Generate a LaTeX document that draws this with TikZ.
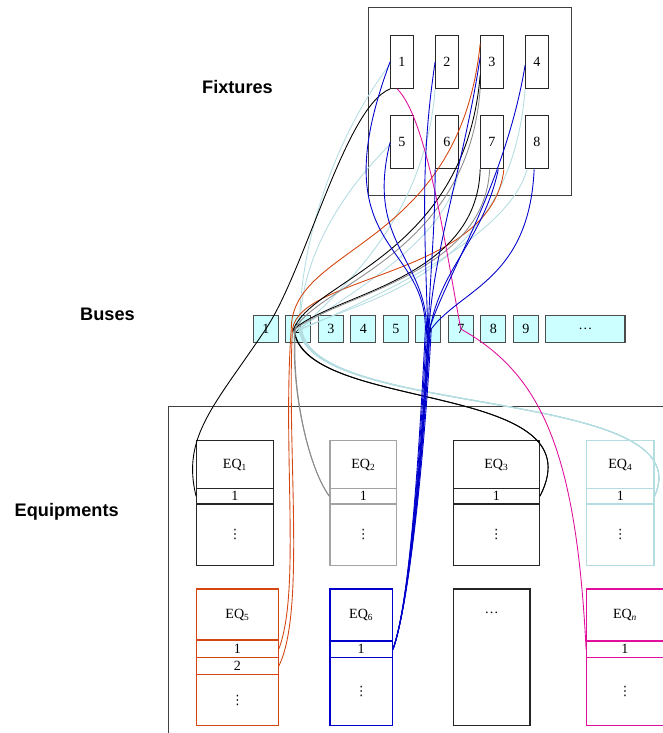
\documentclass[tikz,border=0pt]{standalone}
\usepackage{fontspec}
\setmainfont{Liberation Serif}
\setsansfont{Liberation Sans}
\newfontfamily\dotsfont{DejaVu Sans}
\usetikzlibrary{positioning}
\definecolor{eqblue}{HTML}{0000CC}
\definecolor{eqlight}{HTML}{B4DDE2}
\definecolor{eqorange}{HTML}{D4450F}
\definecolor{eqgray}{HTML}{8C8C8C}
\definecolor{eqmag}{HTML}{E0109C}
\definecolor{busfill}{HTML}{CCFFFF}
\definecolor{framegray}{HTML}{404040}

\begin{document}
\begin{tikzpicture}[x=0.03cm, y=-0.03cm, font=\fontsize{12}{14}\selectfont,
    lab/.style={font=\sffamily\bfseries\fontsize{15.5}{18}\selectfont, anchor=base},
    fix/.style={draw=black!85, line width=0.9pt, minimum width=0.68cm, minimum height=1.6cm, inner sep=0pt},
    bus/.style={draw=black!70, fill=busfill, line width=0.9pt, minimum width=0.75cm,
                minimum height=0.83cm, inner sep=0pt},
    part/.style={draw=#1, line width=1pt, inner sep=0pt, text=black},
    more/.style={font=\dotsfont\fontsize{11}{12}\selectfont},
    wire/.style={line width=0.75pt}]
  \useasboundingbox (0,0) rectangle (662,733);
  \node[lab] (fixlab) at (237.5,93.3) {Fixtures};
  \node[lab] (buslab) at (107.5,320) {Buses};
  \node[lab] (eqlab)  at (66.7,516.7) {Equipments};
  \draw[framegray, line width=0.8pt] (368,7) rectangle (571,195);
  \draw[framegray, line width=0.8pt] (168,406) rectangle (700,760);
  \foreach \i in {1,...,4} {
    \node[fix] (f\i) at ({402+45*(\i-1)},61.7) {\i};
    \pgfmathtruncatemacro\j{\i+4}
    \node[fix] (f\j) at ({402+45*(\i-1)},142.3) {\j};
  }
  \foreach \i in {1,...,9}
    \node[bus] (b\i) at ({265.8+32.5*(\i-1)},329) {\i};
  \node[bus, minimum width=2.38cm] (bdots) at (585.3,329) {\dots};
  \foreach \n/\x/\w/\c in {1/235/2.3cm/black!85, 2/363.3/2.0cm/eqgray!80,
                           3/496.3/2.58cm/black!85, 4/620.3/2.02cm/eqlight} {
    \node[part=\c, minimum width=\w, minimum height=1.43cm] (eq\n h) at (\x,464.5) {EQ\textsubscript{\n}};
    \node[part=\c, minimum width=\w, minimum height=0.47cm] (eq\n s1) at (\x,496.2) {1};
    \node[part=\c, minimum width=\w, minimum height=1.85cm] (eq\n b) at (\x,534.9) {};
    \node[more] (eq\n v) at (eq\n b) {⋮};
  }
  \node[part=eqorange, minimum width=2.45cm, minimum height=1.53cm] (eq5h) at (237.5,614.5) {EQ\textsubscript{5}};
  \node[part=eqorange, minimum width=2.45cm, minimum height=0.52cm] (eq5s1) at (237.5,648.7) {1};
  \node[part=eqorange, minimum width=2.45cm, minimum height=0.51cm] (eq5s2) at (237.5,665.8) {2};
  \node[part=eqorange, minimum width=2.45cm, minimum height=1.54cm] (eq5b) at (237.5,700) {};
  \node[more] (eq5v) at (eq5b) {⋮};
  \node[part=eqblue, minimum width=1.87cm, minimum height=1.56cm] (eq6h) at (361.2,615) {EQ\textsubscript{6}};
  \node[part=eqblue, minimum width=1.87cm, minimum height=0.5cm] (eq6s1) at (361.2,649.3) {1};
  \node[part=eqblue, minimum width=1.87cm, minimum height=2.04cm] (eq6b) at (361.2,691.7) {};
  \node[more] (eq6v) at (eq6b) {⋮};
  \node[part=black!85, minimum width=2.3cm, minimum height=4.1cm] (eqdots) at (491.7,657.3) {};
  \node (eqdotslab) at (491.7,612.7) {\dots};
  \node[part=eqmag, minimum width=2.3cm, minimum height=1.56cm] (eqnh) at (625,615) {EQ\textsubscript{\textit{n}}};
  \node[part=eqmag, minimum width=2.3cm, minimum height=0.5cm] (eqns1) at (625,649.3) {1};
  \node[part=eqmag, minimum width=2.3cm, minimum height=2.04cm] (eqnb) at (625,691.7) {};
  \node[more] (eqnv) at (eqnb) {⋮};
  \draw[wire, eqlight] (f1.190) .. controls +(-60,80) and +(0,-80) .. ([xshift=1pt]b2.center)
    .. controls +(10,90) and +(50,-110) .. (eq4s1.east);
  \draw[wire, eqlight] (f5.190) .. controls +(-50,50) and +(0,-70) .. ([xshift=1.5pt]b2.center)
    .. controls +(10,90) and +(50,-110) .. (eq4s1.east);
  \draw[wire, eqlight] (f2.south west) .. controls +(-10,130) and +(40,-40) .. ([xshift=2pt]b2.center)
    .. controls +(10,90) and +(50,-110) .. (eq4s1.east);
  \draw[wire, eqlight] (f4.south west) .. controls +(-15,190) and +(60,-30) .. ([xshift=2.5pt]b2.center)
    .. controls +(10,90) and +(50,-110) .. (eq4s1.east);
  \draw[wire, eqlight] (f8.250) .. controls +(-20,70) and +(70,-30) .. ([xshift=3pt]b2.center)
    .. controls +(10,90) and +(50,-110) .. (eq4s1.east);
  \draw[wire, eqlight] (f6.south east) .. controls +(-10,70) and +(50,-35) .. ([xshift=0.5pt]b2.center)
    .. controls +(10,90) and +(50,-110) .. (eq4s1.east);
  \draw[wire, eqorange] (f3.124) .. controls +(-21,205) and +(0,-85) .. ([xshift=-6pt]b2.center)
    .. controls +(-9,120) and +(22,-58) .. (eq5s1.east);
  \draw[wire, eqorange] (f7.south east) .. controls +(-12,107) and +(9,-55) .. ([xshift=-5pt]b2.center)
    .. controls +(-6,120) and +(27,-55) .. (eq5s2.east);
  \draw[wire, black] (f3.229) .. controls +(-15,180) and +(20,-50) .. ([xshift=-4pt]b2.center)
    .. controls +(8,85) and +(61,-117) .. (eq3s1.east);
  \draw[wire, black] (f7.south west) .. controls +(-3,110) and +(40,-35) .. ([xshift=-3.5pt]b2.center)
    .. controls +(8,85) and +(61,-117) .. (eq3s1.east);
  \draw[wire, eqgray] (f3.south west) .. controls +(-12,165) and +(25,-45) .. ([xshift=-3pt]b2.center)
    .. controls +(-4,65) and +(-20,-27) .. (eq2s1.west);
  \draw[wire, eqgray] (f7.265) .. controls +(-5,105) and +(45,-35) .. ([xshift=-2.5pt]b2.center)
    .. controls +(-4,65) and +(-20,-27) .. (eq2s1.west);
  \draw[wire, black] (f1.south west) .. controls +(-45,18) and +(40,-60) .. (b1.center)
    .. controls +(-50,75) and +(-15,-60) .. (eq1s1.west);
  \draw[wire, eqmag] (f1.260) .. controls +(30,30) and +(-15,-80) .. (b7.center)
    .. controls +(80,45) and +(-10,-200) .. (eqns1.west);
  \draw[wire, eqblue] (f1.west) .. controls +(-70,188) and +(0,-90) .. ([xshift=-2.5pt]b6.center)
    .. controls +(-5,100) and +(18,-50) .. (eq6s1.east);
  \draw[wire, eqblue] (f5.west) .. controls +(-25,100) and +(0,-70) .. ([xshift=-1.5pt]b6.center)
    .. controls +(-5,100) and +(18,-50) .. (eq6s1.east);
  \draw[wire, eqblue] (f2.west) .. controls +(-15,100) and +(-3,-100) .. ([xshift=-0.5pt]b6.center)
    .. controls +(-5,100) and +(18,-50) .. (eq6s1.east);
  \draw[wire, eqblue] (f6.south west) .. controls +(0,60) and +(2,-60) .. ([xshift=0pt]b6.center)
    .. controls +(-5,100) and +(18,-50) .. (eq6s1.east);
  \draw[wire, eqblue] (f3.160) .. controls +(-15,100) and +(5,-80) .. ([xshift=0.5pt]b6.center)
    .. controls +(-5,100) and +(18,-50) .. (eq6s1.east);
  \draw[wire, eqblue] (f4.196) .. controls +(-20,120) and +(15,-50) .. ([xshift=1pt]b6.center)
    .. controls +(-5,100) and +(18,-50) .. (eq6s1.east);
  \draw[wire, eqblue] (f7.283) .. controls +(-15,70) and +(10,-60) .. ([xshift=1.5pt]b6.center)
    .. controls +(-5,100) and +(18,-50) .. (eq6s1.east);
  \draw[wire, eqblue] (f8.264) .. controls +(-5,110) and +(30,-40) .. ([xshift=2.5pt]b6.center)
    .. controls +(-5,100) and +(18,-50) .. (eq6s1.east);
\end{tikzpicture}
\end{document}
